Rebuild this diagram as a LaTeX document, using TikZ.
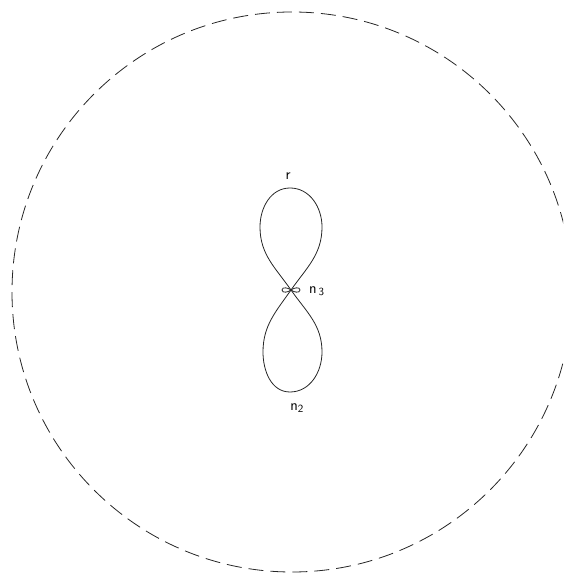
\documentclass[tikz,border=0pt]{standalone}
\usepackage{tikz}
\usetikzlibrary{positioning}

\begin{document}
\begin{tikzpicture}[x=1pt, y=1pt,
  bnd/.style={draw=black!85, line width=0.8pt, dash pattern=on 15pt off 7pt},
  lobe/.style={draw=black!85, line width=0.8pt},
  lbl/.style={font=\fontsize{15}{17}\sffamily, inner sep=1pt}]
\useasboundingbox (0,0) rectangle (563,577);
\clip (0,0) rectangle (563,577);
% --- outer boundary ---
\coordinate (ctr) at (292,285);
\draw[bnd] (ctr) circle[radius=280];
% --- figure eight ---
\coordinate (x0) at (291,287);
\coordinate (tp) at (290,389);
\coordinate (ur) at (322,350);
\coordinate (ul) at (260,350);
\coordinate (bt) at (290,185);
\coordinate (lr) at (322,225);
\coordinate (ll) at (263,225);
\draw[lobe] (x0) to[out=55,in=-90] (ur) to[out=90,in=0] (tp)
  to[out=180,in=90] (ul) to[out=-90,in=125] (x0)
  to[out=-55,in=90] (lr) to[out=-90,in=0] (bt)
  to[out=180,in=-90] (ll) to[out=90,in=-125] (x0);
% small bow at the crossing
\draw[lobe] (x0) to[out=40,in=90] ++(9,0) to[out=-90,in=-40] (x0)
  to[out=140,in=90] ++(-9,0) to[out=-90,in=220] (x0);
% --- labels ---
\node[lbl] (lblr) at (288,401) {r};
\node[lbl, right=17pt of x0, yshift=-1pt] (lbln3) {n$_{\,\mathsf{3}}$};
\node[lbl] (lbln2) at (297,169) {n$_{\mathsf{2}}$};
\end{tikzpicture}
\end{document}
